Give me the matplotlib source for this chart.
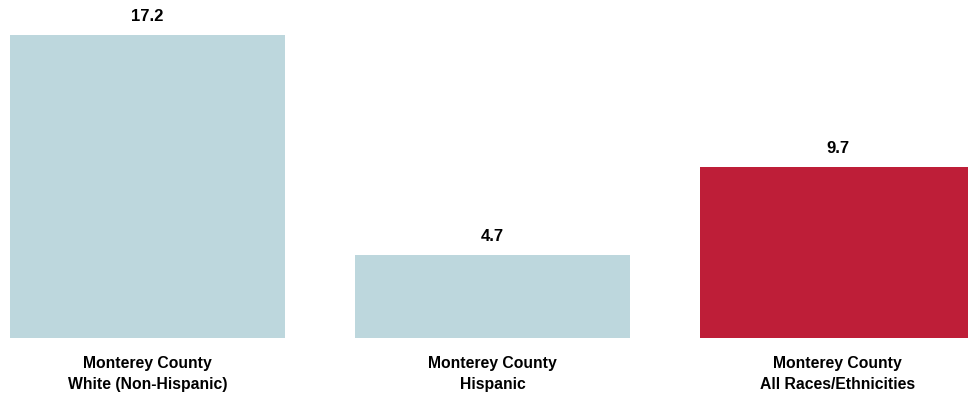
import matplotlib
matplotlib.use("Agg")
import matplotlib.pyplot as plt
from matplotlib import font_manager

categories = ["Monterey County\nWhite (Non-Hispanic)", "Monterey County\nHispanic", "Monterey County\nAll Races/Ethnicities"]
values = [17.2, 4.7, 9.7]
colors = ["#bdd7dd", "#bdd7dd", "#be1e38"]

names = {f.name for f in font_manager.fontManager.ttflist}
fam = ["Liberation Sans Narrow", "Liberation Sans", "DejaVu Sans"]
fam = [f for f in fam if f in names] or ["DejaVu Sans"]
plt.rcParams['font.family'] = fam

W, H = 968, 396
fig = plt.figure(figsize=(W/100, H/100), dpi=100)
base = 338
ax = fig.add_axes([0, (H-base)/H, 1, base/H])
x = list(range(len(values)))
ax.bar(x, values, width=275/345, color=colors)
ax.set_xlim(-147.5/345, (W-147.5)/345)
ax.set_ylim(0, 17.2*base/303)
for xi, v in zip(x, values):
    ax.annotate(f"{v}", (xi, v), xytext=(0, 8), textcoords="offset points",
                ha="center", va="bottom", fontsize=12, fontweight="bold")
ax.set_xticks(x)
ax.set_xticklabels(categories, fontsize=11.3, fontweight="bold", linespacing=1.5)
ax.tick_params(axis="x", length=0, pad=13)
ax.set_yticks([])
for s in ax.spines.values():
    s.set_visible(False)
fig.savefig("out.png", dpi=100)
